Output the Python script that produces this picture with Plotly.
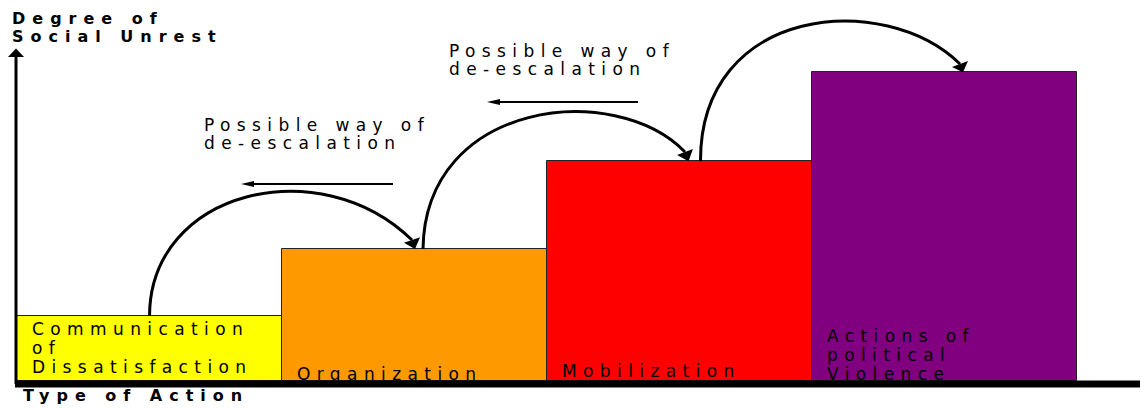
import math
import plotly.graph_objects as go

# ---------------- data ----------------
categories = ["Communication of Dissatisfaction", "Organization", "Mobilization",
              "Actions of political Violence"]
positions = [0, 1, 2, 3]
unrest = [1.0, 2.03, 3.38, 4.75]
bar_colors = ["#FFFF00", "#FF9900", "#FF0000", "#800080"]
label_lines = [["Communication", "of", "Dissatisfaction"], ["Organization"],
               ["Mobilization"], ["Actions of", "political", "Violence"]]
y_title_lines = ["Degree of", "Social Unrest"]
x_title = "Type of Action"
note_lines = ["Possible way of", "de-escalation"]

# ---------------- layout helpers ----------------
W, H = 1147, 408
X_RANGE = [-0.5642, 3.7642]
Y_RANGE = [-0.4154, 5.8615]
FONT = "DejaVu Sans"
F_REG, F_BOLD = 17, 16
LS_REG, LS_BOLD = 6.4, 7


def px2x(p):
    return X_RANGE[0] + p / W * (X_RANGE[1] - X_RANGE[0])


def py2y(p):
    return Y_RANGE[1] - p / H * (Y_RANGE[1] - Y_RANGE[0])


def x2px(x):
    return (x - X_RANGE[0]) / (X_RANGE[1] - X_RANGE[0]) * W


def y2py(y):
    return (Y_RANGE[1] - y) / (Y_RANGE[1] - Y_RANGE[0]) * H


def spaced(t, ls):
    return '<span style="letter-spacing:%spx">%s</span>' % (ls, t)


fig = go.Figure()

# bars
fig.add_trace(go.Bar(
    x=positions, y=unrest, width=1,
    marker=dict(color=bar_colors, line=dict(color="#222222", width=1)),
    hoverinfo="skip", showlegend=False,
))

# bar labels (text traces so the thick base line covers them like the original)
label_baselines = [[335, 354, 373], [380], [377], [342, 361, 380]]
tx, ty, tt = [], [], []
for i, lines in enumerate(label_lines):
    left_px = x2px(positions[i] - 0.5) + 15
    for line, base in zip(lines, label_baselines[i]):
        tx.append(px2x(left_px))
        ty.append(py2y(base - 0.25 * F_REG))
        tt.append(spaced(line, LS_REG))

# de-escalation notes
for (lx, b0) in [(204, 131), (449, 57)]:
    for k, line in enumerate(note_lines):
        tx.append(px2x(lx))
        ty.append(py2y(b0 + 18 * k - 0.25 * F_REG))
        tt.append(spaced(line, LS_REG))

fig.add_trace(go.Scatter(
    x=tx, y=ty, text=tt, mode="text", textposition="middle right",
    textfont=dict(family=FONT, size=F_REG, color="#000000"),
    hoverinfo="skip", showlegend=False,
))

# axis titles (bold)
bx, by, bt = [], [], []
for k, line in enumerate(y_title_lines):
    bx.append(px2x(12))
    by.append(py2y(24 + 18 * k - 0.25 * F_BOLD))
    bt.append(spaced(line, LS_BOLD))
bx.append(px2x(23))
by.append(py2y(401 - 0.25 * F_BOLD))
bt.append(spaced(x_title, LS_BOLD))
fig.add_trace(go.Scatter(
    x=bx, y=by, text=bt, mode="text", textposition="middle right",
    textfont=dict(family=FONT, size=F_BOLD, color="#000000", weight="bold"),
    hoverinfo="skip", showlegend=False,
))

# ---------------- decorations (shapes) ----------------
shapes = []


def P(p):
    return "%.5f,%.5f" % (px2x(p[0]), py2y(p[1]))


def head(tip, base, half):
    dx, dy = tip[0] - base[0], tip[1] - base[1]
    n = math.hypot(dx, dy)
    ux, uy = -dy / n, dx / n
    a = (base[0] + ux * half, base[1] + uy * half)
    b = (base[0] - ux * half, base[1] - uy * half)
    return dict(type="path", xref="x", yref="y", layer="above",
                path="M%s L%s L%s Z" % (P(tip), P(a), P(b)),
                fillcolor="black", line=dict(width=0))


def seg(p0, p1, w):
    return dict(type="line", xref="x", yref="y", layer="above",
                x0=px2x(p0[0]), y0=py2y(p0[1]), x1=px2x(p1[0]), y1=py2y(p1[1]),
                line=dict(color="black", width=w))


# escalation curves: from top of one bar to the top of the next
curve_specs = [
    # start offset px, control1, control2, head base, tip offset px
    (0, (150, 190), (320, 150), (412, 240), 0.5),
    (8.5, (425, 100), (615, 80), (685, 152), 9),
    (21, (700, 5), (885, -10), (960, 64), 18.5),
]
for i, (sdx, c1, c2, hb, tdx) in enumerate(curve_specs):
    p0 = (x2px(positions[i]) + sdx, y2py(unrest[i]))
    tip = (x2px(positions[i + 1]) + tdx, y2py(unrest[i + 1]))
    shapes.append(dict(type="path", xref="x", yref="y", layer="above",
                       path="M%s C%s %s %s" % (P(p0), P(c1), P(c2), P(hb)),
                       line=dict(color="black", width=3)))
    shapes.append(head(tip, hb, 8.5))

# de-escalation arrows
for (x_from, x_tip, yy) in [(393, 241, 184), (638, 487, 102)]:
    shapes.append(seg((x_from, yy), (x_tip + 10, yy), 2))
    shapes.append(head((x_tip, yy), (x_tip + 13, yy), 3))

# y axis arrow
shapes.append(seg((16, 384), (16, 56), 3))
shapes.append(head((16, 48.5), (16, 57), 8))

# thick base line
shapes.append(seg((15, 384), (1140, 384), 7))

fig.update_layout(
    width=W, height=H, margin=dict(l=0, r=0, t=0, b=0),
    paper_bgcolor="white", plot_bgcolor="white",
    xaxis=dict(range=X_RANGE, visible=False, fixedrange=True),
    yaxis=dict(range=Y_RANGE, visible=False, fixedrange=True),
    bargap=0, shapes=shapes, showlegend=False,
    font=dict(family=FONT),
)

fig.write_html("out.html", config={"displayModeBar": False},
               post_script="document.body.style.margin='0';")
